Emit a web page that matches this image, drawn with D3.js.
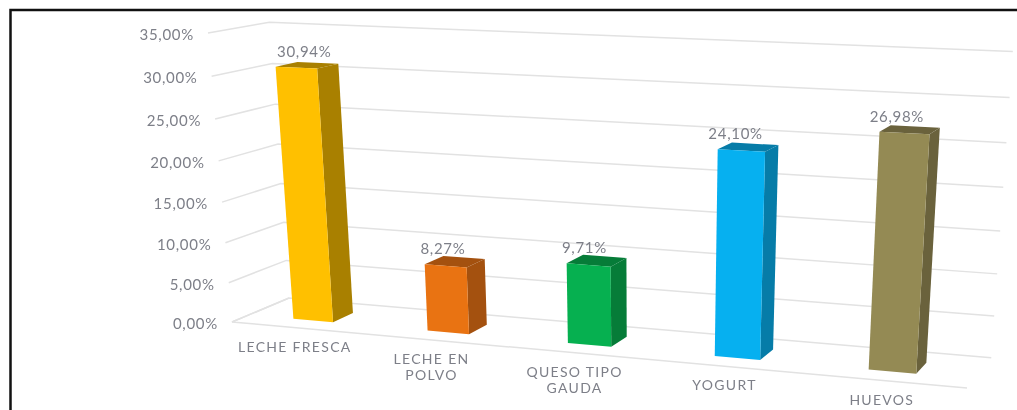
<!DOCTYPE html>
<html><head><meta charset="utf-8">
<script src="https://cdn.jsdelivr.net/npm/d3@7"></script>
<style>html,body{margin:0;padding:0;background:#fff}svg{display:block;filter:blur(.6px)}text{font-family:Lato,"Open Sans",sans-serif;fill:#7d7f88;letter-spacing:.7px}text.cat{letter-spacing:1.3px}</style>
</head><body><svg id="c" width="1017" height="410"></svg>
<script>
const categories = ["LECHE FRESCA","LECHE EN POLVO","QUESO TIPO GAUDA","YOGURT","HUEVOS"];
const categoryLines = [["LECHE FRESCA"],["LECHE EN","POLVO"],["QUESO TIPO","GAUDA"],["YOGURT"],["HUEVOS"]];
const values = [30.94, 8.27, 9.71, 24.10, 26.98];
const ticks = [0,5,10,15,20,25,30,35];
const frontColors = ["#FFC000","#E97312","#06B050","#06B0F0","#948A54"];
const sideColors = ["#A98000","#A4510F","#067C38","#067CA8","#6A623C"];

const fmt = d3.formatLocale({decimal:",",thousands:".",grouping:[3],currency:["",""]}).format(".2f");
const svg = d3.select("#c");

// projective camera from the plot's corners
const O=[232,322], PX=[967,388], PV=[208,33], PZ=[289,298];
const a=.89, b=.945, g=1.0504;
const yNorm = d3.scaleLinear().domain([0,35]).range([0,1]);
function project(X,v,Z){
  const V=yNorm(v), w=1+X*(a-1)+V*(b-1)+Z*(g-1);
  return [0,1].map(i=>(X*(a*PX[i]-O[i])+V*(b*PV[i]-O[i])+Z*(g*PZ[i]-O[i])+O[i])/w);
}
const band = d3.scaleBand().domain(categories).range([-.002,.998]).paddingInner(.7).paddingOuter(.35);
const zFront=.29, zBack=.66;
const line = d3.line();
const labelShift = d3.scaleLinear().domain([.1,.3,.9]).range([-3,-12,-13]);

// border: left and top edges of the frame only
svg.append("path").attr("d","M10.5,410V10H1017").attr("fill","none").attr("stroke","#111").attr("stroke-width",2.5);

// gridlines
const grid = svg.append("g").attr("fill","none").attr("stroke","#e2e2e2").attr("stroke-width",1.5);
ticks.forEach(t=>{
  grid.append("path").attr("d",line([project(0,t,0),project(0,t,1),project(1,t,1)]));
});
grid.append("path").attr("d",line([project(0,0,1),project(0,0,0),project(1,0,0)]));

// tick labels
svg.append("g").attr("font-size",15).selectAll("text").data(ticks).join("text")
  .attr("text-anchor","end")
  .attr("x",d=>project(0,d,0)[0]-14)
  .attr("y",d=>project(0,d,0)[1]+7)
  .text(d=>fmt(d)+"%");

// bars
const bars = svg.selectAll("g.bar").data(categories).join("g").attr("class","bar");
bars.each(function(c,i){
  const g0=d3.select(this), x0=band(c), x1=x0+band.bandwidth(), v=values[i];
  const poly=(pts,f)=>g0.append("path").attr("d",line(pts)+"Z").attr("fill",f);
  poly([project(x1,0,zFront),project(x1,0,zBack),project(x1,v,zBack),project(x1,v,zFront)],sideColors[i]);
  poly([project(x0,v,zFront),project(x1,v,zFront),project(x1,v,zBack),project(x0,v,zBack)],sideColors[i]);
  poly([project(x0,0,zFront),project(x1,0,zFront),project(x1,v,zFront),project(x0,v,zFront)],frontColors[i]);
});

// value labels
svg.append("g").attr("font-size",15).selectAll("text").data(categories).join("text")
  .attr("text-anchor","middle")
  .attr("x",(c,i)=>{const m=band(c)+band.bandwidth()/2;return project(m,values[i],(zFront+zBack)/2)[0]+labelShift(m);})
  .attr("y",(c,i)=>project(band(c)+band.bandwidth()/2,values[i],(zFront+zBack)/2)[1]-8)
  .text((c,i)=>fmt(values[i])+"%");

// category labels
categories.forEach((c,i)=>{
  const p=project(band(c)+band.bandwidth()/2,0,0);
  const t=svg.append("text").attr("class","cat").attr("font-size",14).attr("text-anchor","middle");
  categoryLines[i].forEach((s,k)=>t.append("tspan").attr("x",p[0]-2).attr("y",p[1]+24+k*16).text(s));
});
</script></body></html>
